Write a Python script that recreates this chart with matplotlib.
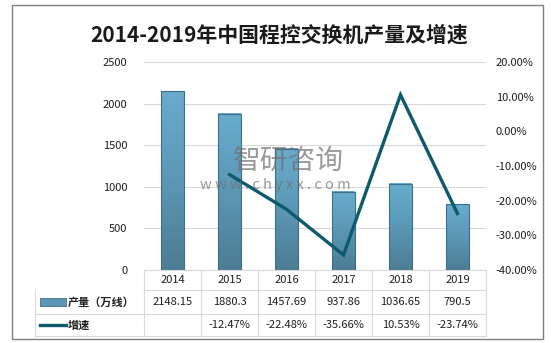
import matplotlib
matplotlib.use("Agg")
import matplotlib.pyplot as plt
import matplotlib.transforms as mtrans
from matplotlib.patches import Rectangle
from matplotlib.lines import Line2D
import numpy as np

plt.rcParams['font.family'] = ['Noto Sans CJK SC', 'DejaVu Sans']

years = ['2014', '2015', '2016', '2017', '2018', '2019']
output = [2148.15, 1880.3, 1457.69, 937.86, 1036.65, 790.5]
output_text = ['2148.15', '1880.3', '1457.69', '937.86', '1036.65', '790.5']
growth = [np.nan, -12.47, -22.48, -35.66, 10.53, -23.74]
growth_text = ['', '-12.47%', '-22.48%', '-35.66%', '10.53%', '-23.74%']
row_names = ['产量（万线）', '增速']

TXT = '#1f1f1f'
GRID = '#d9d9d9'
LINE_C = '#0e5a6d'

fig = plt.figure(figsize=(5.51, 3.43), dpi=100)
ax = fig.add_axes([144/551, 1-270/343, 342/551, 208/343])
ax2 = ax.twinx()

x = np.arange(len(years))
w = 0.4

# gradient bars
grad = np.linspace(0, 1, 100).reshape(-1, 1)
cmap = matplotlib.colors.LinearSegmentedColormap.from_list('b', ['#4c7d94', '#5b97b5', '#69acce'])
for xi, v in zip(x, output):
    ax.imshow(grad, extent=[xi - w/2, xi + w/2, 0, v], origin='lower', aspect='auto',
              cmap=cmap, zorder=2)
    ax.add_patch(Rectangle((xi - w/2, 0), w, v, fill=False, edgecolor='#3f6f86', lw=0.8, zorder=3))

ax.set_xlim(-0.5, 5.5)
ax.set_ylim(0, 2500)
ax.set_yticks(range(0, 2501, 500))
ax.grid(axis='y', color=GRID, lw=0.8, zorder=0)
ax.set_axisbelow(True)
ax.set_xticks([])
ax.tick_params(axis='y', length=0, pad=12, labelsize=8, labelcolor=TXT)
for s in ['top', 'left', 'right']:
    ax.spines[s].set_visible(False)
ax.spines['bottom'].set_color(GRID)

ax2.plot(x, growth, color=LINE_C, lw=2.4, solid_joinstyle='miter', zorder=5)
ax2.set_ylim(-40, 20)
ax2.set_yticks(range(-40, 21, 10))
ax2.set_yticklabels(['%.2f%%' % t for t in range(-40, 21, 10)])
ax2.tick_params(axis='y', length=0, pad=7, labelsize=8, labelcolor=TXT)
for s in ['top', 'left', 'right', 'bottom']:
    ax2.spines[s].set_visible(False)

# data table under the axis
tr = mtrans.blended_transform_factory(ax.transData, ax.transAxes)
rows = [0, -20/208, -44/208, -66/208]
left_edge = (35 - 144) / 342
lkw = dict(color=GRID, lw=0.8, clip_on=False)
ax.add_line(Line2D([-0.5, 5.5], [rows[1]] * 2, transform=tr, **lkw))
for yb in rows[2:]:
    ax.add_line(Line2D([left_edge, 1], [yb] * 2, transform=ax.transAxes, **lkw))
ax.add_line(Line2D([left_edge, left_edge], [rows[1], rows[3]], transform=ax.transAxes, **lkw))
for xb in np.arange(-0.5, 6, 1):
    ax.add_line(Line2D([xb, xb], [rows[0], rows[3]], transform=tr, **lkw))

for xi in x:
    ax.text(xi, (rows[0] + rows[1]) / 2, years[xi], transform=tr, ha='center', va='center',
            fontsize=8, color=TXT, fontweight='medium')
    ax.text(xi, (rows[1] + rows[2]) / 2, output_text[xi], transform=tr, ha='center', va='center',
            fontsize=8, color=TXT, fontweight='medium')
    ax.text(xi, (rows[2] + rows[3]) / 2, growth_text[xi], transform=tr, ha='center', va='center',
            fontsize=8, color=TXT, fontweight='medium')

# legend keys in the table
sw0 = (40 - 144) / 342
sw1 = (66 - 144) / 342
ym = (rows[1] + rows[2]) / 2
ax.add_patch(Rectangle((sw0, ym - 4/208), sw1 - sw0, 8/208, transform=ax.transAxes,
                       facecolor='#5c98b6', edgecolor='#3f6f86', lw=0.6, clip_on=False))
ax.text(sw1 + 2/342, ym, row_names[0], transform=ax.transAxes, ha='left', va='center',
        fontsize=8, color=TXT, fontweight='bold')
ym = (rows[2] + rows[3]) / 2
ax.add_line(Line2D([sw0, sw1], [ym, ym], transform=ax.transAxes, color=LINE_C, lw=2.4,
                   clip_on=False))
ax.text(sw1 + 2/342, ym, row_names[1], transform=ax.transAxes, ha='left', va='center',
        fontsize=8, color=TXT, fontweight='bold')

# title and frame
fig.text(279/551, 1-35/343, '2014-2019年中国程控交换机产量及增速', ha='center', va='center',
         fontsize=15, fontweight='bold', color='#1a1a1a')
fig.add_artist(Rectangle((12/551, 1-339/343), 531/551, 334/343, transform=fig.transFigure,
                         fill=False, edgecolor='#7f7f7f', lw=1))

# watermark
fig.text(288/551, 1-161/343, '智研咨询', ha='center', va='center', fontsize=20,
         color='#6f6f6f', alpha=0.7, zorder=10)
fig.text(275/551, 1-185/343, 'w w w . c h y x x . c o m', ha='center', va='center', fontsize=10.5,
         color='#6f6f6f', alpha=0.7, zorder=10)

fig.savefig('out.png', dpi=100)
